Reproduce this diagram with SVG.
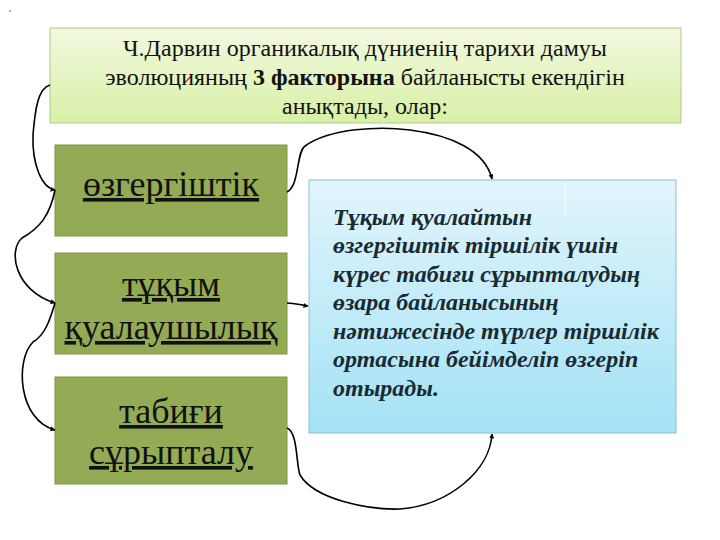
<svg xmlns="http://www.w3.org/2000/svg" width="720" height="540" viewBox="0 0 720 540">
<defs>
<linearGradient id="gTop" x1="0" y1="0" x2="0" y2="1"><stop offset="0" stop-color="#f2f9e0"/><stop offset="1" stop-color="#d8f0a6"/></linearGradient>
<linearGradient id="gBlue" x1="0" y1="0" x2="0" y2="1"><stop offset="0" stop-color="#e2f5fc"/><stop offset="1" stop-color="#a3e2f5"/></linearGradient>
<marker id="arr" viewBox="0 0 10 10" refX="9" refY="5" markerWidth="5" markerHeight="5" orient="auto" markerUnits="userSpaceOnUse"><path d="M0,0 L10,5 L0,10 z" fill="#000"/></marker>
</defs>
<style>
.conn{fill:none;stroke:#000;stroke-width:1.6;marker-end:url(#arr)}
.fac{fill:#93ab55;stroke:#7e9646;stroke-width:1}
</style>
<rect width="720" height="540" fill="#fff"/>
<circle cx="10" cy="11" r="1" fill="#999"/>
<g id="header">
<rect x="50" y="28" width="631" height="95" fill="url(#gTop)" stroke="#b5c48c" stroke-width="1"/>
<text x="365" y="56" font-family="'Liberation Serif', serif" font-size="24" fill="#111" text-anchor="middle">Ч.Дарвин органикалық дүниенің тарихи дамуы</text>
<text x="365" y="85" font-family="'Liberation Serif', serif" font-size="24" fill="#111" text-anchor="middle">эволюцияның <tspan font-weight="bold">3 факторына</tspan> байланысты екендігін</text>
<text x="365" y="114" font-family="'Liberation Serif', serif" font-size="24" fill="#111" text-anchor="middle">анықтады, олар:</text>
</g>
<g id="factor1">
<rect class="fac" x="55" y="145" width="232" height="91"/>
<text x="171" y="196" font-family="'Liberation Serif', serif" font-size="36" fill="#111" text-anchor="middle" text-decoration="underline">өзгергіштік</text>
</g>
<g id="factor2">
<rect class="fac" x="55" y="253" width="232" height="101"/>
<text x="171" y="296" font-family="'Liberation Serif', serif" font-size="36" fill="#111" text-anchor="middle" text-decoration="underline">тұқым</text>
<text x="171" y="339" font-family="'Liberation Serif', serif" font-size="36" fill="#111" text-anchor="middle" text-decoration="underline">қуалаушылық</text>
</g>
<g id="factor3">
<rect class="fac" x="55" y="377" width="232" height="107"/>
<text x="171" y="423" font-family="'Liberation Serif', serif" font-size="36" fill="#111" text-anchor="middle" text-decoration="underline">табиғи</text>
<text x="171" y="464" font-family="'Liberation Serif', serif" font-size="36" fill="#111" text-anchor="middle" text-decoration="underline">сұрыпталу</text>
</g>
<g id="result">
<rect x="309" y="180" width="367" height="253" fill="url(#gBlue)" stroke="#8fbfce" stroke-width="1"/>
<line x1="565" y1="183" x2="565" y2="214" stroke="#f4fbfe" stroke-width="1.5"/>
<text x="333" y="225" font-family="'Liberation Serif', serif" font-size="24" font-weight="bold" font-style="italic" fill="#1a2a33">Тұқым қуалайтын</text>
<text x="333" y="253" font-family="'Liberation Serif', serif" font-size="24" font-weight="bold" font-style="italic" fill="#1a2a33">өзгергіштік тіршілік үшін</text>
<text x="333" y="282" font-family="'Liberation Serif', serif" font-size="24" font-weight="bold" font-style="italic" fill="#1a2a33">күрес табиғи сұрыпталудың</text>
<text x="333" y="310" font-family="'Liberation Serif', serif" font-size="24" font-weight="bold" font-style="italic" fill="#1a2a33">өзара байланысының</text>
<text x="333" y="339" font-family="'Liberation Serif', serif" font-size="24" font-weight="bold" font-style="italic" fill="#1a2a33">нәтижесінде түрлер тіршілік</text>
<text x="333" y="367" font-family="'Liberation Serif', serif" font-size="24" font-weight="bold" font-style="italic" fill="#1a2a33">ортасына бейімделіп өзгеріп</text>
<text x="333" y="396" font-family="'Liberation Serif', serif" font-size="24" font-weight="bold" font-style="italic" fill="#1a2a33">отырады.</text>
</g>
<g id="connectors">
<path class="conn" d="M50 85 C38 88,35 110,33 135 C32 165,42 188,55 190"/>
<path class="conn" d="M55 190 C50 215,40 228,22 238 C8 250,14 290,55 303"/>
<path class="conn" d="M55 303 C50 320,45 335,33 342 C15 360,18 420,55 430"/>
<path class="conn" d="M287 192 C300 185,296 152,305 146 C330 128,380 126,410 130 C450 135,485 150,492 179"/>
<path class="conn" d="M287 303 C295 303,300 305,308 306"/>
<path class="conn" d="M287 428 C298 432,296 465,300 475 C315 500,370 510,400 509 C450 505,490 470,492 434"/>
</g>
</svg>
